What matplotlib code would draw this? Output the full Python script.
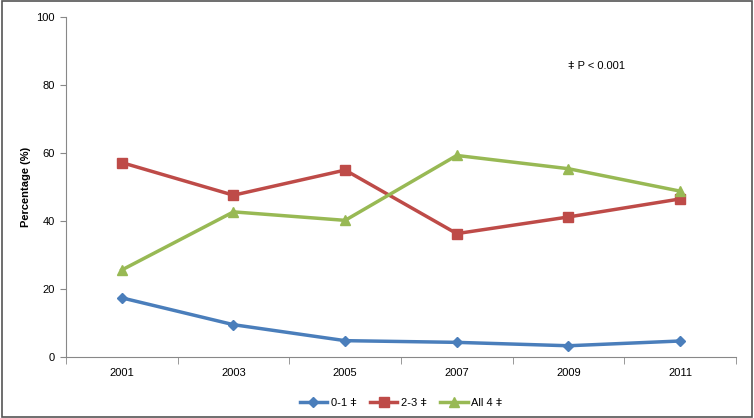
import numpy as np
import matplotlib.pyplot as plt
from matplotlib.patches import Rectangle

# =====================================
# DATA
# =====================================

years = ["2001", "2003", "2005", "2007", "2009", "2011"]

pct_01 = [17.4, 9.5, 4.8, 4.3, 3.3, 4.7]
pct_23 = [57.2, 47.6, 55.0, 36.3, 41.2, 46.5]
pct_all4 = [25.6, 42.7, 40.2, 59.3, 55.4, 48.8]

series_labels = ["0-1 \u01c2", "2-3 \u01c2", "All 4 \u01c2"]

# =====================================
# PLOT
# =====================================

plt.rcParams['font.family'] = ['Liberation Sans', 'DejaVu Sans']

fig = plt.figure(figsize=(7.54, 4.18), dpi=100)
ax = fig.add_axes([0.0875, 0.146, 0.8885, 0.813])

x = np.arange(len(years))
ax.plot(x, pct_01, color="#4A7EBB", lw=2.5, marker="D", ms=5.5, label=series_labels[0])
ax.plot(x, pct_23, color="#BE4B48", lw=2.5, marker="s", ms=6.5, label=series_labels[1])
ax.plot(x, pct_all4, color="#98B954", lw=2.5, marker="^", ms=7.5, label=series_labels[2])

ax.set_xlim(-0.5, len(years) - 0.5)
ax.set_ylim(0, 100)
ax.set_yticks(np.arange(0, 101, 20))
ax.set_xticks(x)
ax.set_xticklabels(years)
ax.set_xticks(np.arange(-0.5, len(years), 1), minor=True)
ax.tick_params(axis="x", which="major", length=0, pad=8, labelsize=8)
ax.tick_params(axis="x", which="minor", length=5, color="#888888")
ax.tick_params(axis="y", length=4, color="#888888", labelsize=8, pad=4)

for s in ["top", "right"]:
    ax.spines[s].set_visible(False)
for s in ["left", "bottom"]:
    ax.spines[s].set_color("#888888")

ax.set_ylabel("Percentage (%)", fontsize=8, fontweight="bold", labelpad=4)

ax.text(4.0, 85.5, "\u01c2 P < 0.001", fontsize=8, va="center", ha="left")

ax.legend(loc="upper center", bbox_to_anchor=(0.5, -0.09), ncol=3, frameon=False,
          fontsize=8, handlelength=2.5, columnspacing=1.2, handletextpad=0.3)

fig.patches.append(Rectangle((0.002, 0.003), 0.996, 0.994, transform=fig.transFigure,
                             fill=False, edgecolor="#555555", lw=1.2))

plt.savefig("out.png", dpi=100)
